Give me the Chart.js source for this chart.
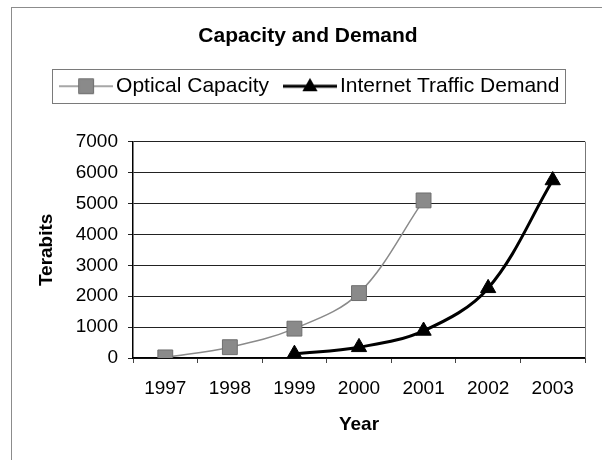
<!DOCTYPE html>
<html><head><meta charset="utf-8">
<script src="https://cdn.jsdelivr.net/npm/chart.js@4"></script>
<style>html,body{margin:0;padding:0;background:#fff}</style>
</head><body>
<canvas id="c" width="602" height="460"></canvas>
<script>
const years = ['1997', '1998', '1999', '2000', '2001', '2002', '2003'];
const opticalCapacity = [20, 350, 950, 2100, 5100, null, null];
const trafficDemand = [null, null, 130, 350, 880, 2260, 5750];
const yTicks = [0, 1000, 2000, 3000, 4000, 5000, 6000, 7000];
const seriesNames = ['Optical Capacity', 'Internet Traffic Demand'];

const FONT = '"Liberation Sans", Arial, sans-serif';
Chart.defaults.font.family = FONT;
Chart.defaults.color = '#000';

const GRAY = '#8a8a8a';
const SQ_R = 10.5, TRI_R = 8.8;
const LEGEND_SHIFT = 5;

function drawSquare(ctx, x, y, r) {
  const s = Math.SQRT1_2 * r;
  ctx.fillStyle = GRAY; ctx.strokeStyle = '#6e6e6e'; ctx.lineWidth = 1;
  ctx.beginPath(); ctx.rect(x - s, y - s, 2 * s, 2 * s); ctx.fill(); ctx.stroke();
}
function drawTri(ctx, x, y, r) {
  ctx.fillStyle = '#000';
  ctx.beginPath();
  ctx.moveTo(x, y - r);
  ctx.lineTo(x + r * Math.sin(2 * Math.PI / 3), y + r * 0.5);
  ctx.lineTo(x - r * Math.sin(2 * Math.PI / 3), y + r * 0.5);
  ctx.closePath(); ctx.fill();
}
function makeIcon(kind) {
  const c = document.createElement('canvas');
  c.width = 54; c.height = 20;
  const g = c.getContext('2d');
  if (kind === 0) {
    g.strokeStyle = GRAY; g.lineWidth = 1.5;
    g.beginPath(); g.moveTo(0, 10); g.lineTo(54, 10); g.stroke();
    drawSquare(g, 27, 10, SQ_R);
  } else {
    g.strokeStyle = '#000'; g.lineWidth = 3;
    g.beginPath(); g.moveTo(0, 10); g.lineTo(54, 10); g.stroke();
    drawTri(g, 27, 10.5, TRI_R);
  }
  return c;
}
const icons = [makeIcon(0), makeIcon(1)];

const spacer = {
  id: 'spacer',
  beforeInit(chart) {
    const box = {
      position: 'top', weight: 500, fullSize: true, options: {},
      isHorizontal() { return true; },
      update(w) { this.width = w; this.height = 35; return this.height; },
      draw() {}
    };
    Chart.layouts.addBox(chart, box);
  }
};

const frames = {
  id: 'frames',
  afterUpdate(chart) {
    const lg = chart.legend;
    lg.left += LEGEND_SHIFT; lg.right += LEGEND_SHIFT;
    (lg.legendHitBoxes || []).forEach(h => { h.left += LEGEND_SHIFT; });
  },
  beforeDraw(chart) {
    const ctx = chart.ctx;
    ctx.save();
    ctx.fillStyle = '#fff'; ctx.fillRect(0, 0, chart.width, chart.height);
    ctx.strokeStyle = '#8c8c8c'; ctx.lineWidth = 1;
    ctx.strokeRect(11.5, 7.5, chart.width + 10, chart.height + 10);
    ctx.restore();
  },
  afterDraw(chart) {
    const ctx = chart.ctx, a = chart.chartArea;
    ctx.save();
    ctx.strokeStyle = '#777'; ctx.lineWidth = 1;
    ctx.beginPath(); ctx.moveTo(Math.round(a.right) + 0.5, a.top); ctx.lineTo(Math.round(a.right) + 0.5, a.bottom); ctx.stroke();
    const hb = chart.legend.legendHitBoxes;
    if (hb && hb.length) {
      const l = hb[0].left - 15, r = hb[hb.length - 1].left + hb[hb.length - 1].width + 5;
      const t = hb[0].top - 6.5, b = hb[0].top + hb[0].height + 6.5;
      ctx.strokeStyle = '#7a7a7a';
      ctx.strokeRect(Math.round(l) + 0.5, Math.round(t) + 0.5, Math.round(r - l), Math.round(b - t));
    }
    ctx.restore();
  }
};

new Chart(document.getElementById('c'), {
  type: 'line',
  data: {
    labels: years,
    datasets: [
      {
        label: seriesNames[0], data: opticalCapacity,
        borderColor: GRAY, borderWidth: 1.5, tension: 0.35,
        pointStyle: 'rect', pointRadius: SQ_R, pointBackgroundColor: GRAY,
        pointBorderColor: '#6e6e6e', pointBorderWidth: 1
      },
      {
        label: seriesNames[1], data: trafficDemand,
        borderColor: '#000', borderWidth: 3, tension: 0.35,
        pointStyle: 'triangle', pointRadius: TRI_R, pointBackgroundColor: '#000',
        pointBorderColor: '#000', pointBorderWidth: 1
      }
    ]
  },
  options: {
    responsive: false, animation: false,
    layout: { padding: { left: 31, right: 17, top: 0, bottom: 24 } },
    plugins: {
      title: {
        display: true, text: 'Capacity and Demand', color: '#000',
        font: { size: 21, weight: 'bold' }, padding: { top: 24, bottom: 5 }
      },
      legend: {
        display: true,
        labels: {
          usePointStyle: true, pointStyleWidth: 39, padding: 21.5,
          font: { size: 21 }, color: '#000',
          generateLabels(chart) {
            const items = Chart.defaults.plugins.legend.labels.generateLabels(chart);
            items.forEach((it, i) => { it.pointStyle = icons[i]; });
            return items;
          }
        }
      },
      tooltip: { enabled: false }
    },
    scales: {
      x: {
        offset: true,
        grid: { offset: true, drawOnChartArea: false, drawTicks: true, tickLength: 5, color: '#444' },
        border: { display: true, color: '#000', width: 1.5 },
        ticks: { font: { size: 19 }, color: '#000', padding: 14, maxRotation: 0 },
        title: { display: true, text: 'Year', font: { size: 19, weight: 'bold' }, color: '#000', padding: { top: 0, bottom: 0 } },
        afterFit(s) { s.height = 78; }
      },
      y: {
        min: 0, max: 7000,
        afterBuildTicks(s) { s.ticks = yTicks.map(v => ({ value: v })); },
        grid: { color: '#222', lineWidth: 1, tickLength: 5 },
        border: { display: true, color: '#000', width: 1.5 },
        ticks: { font: { size: 19 }, color: '#000', padding: 10, callback: v => String(v) },
        title: { display: true, text: 'Terabits', font: { size: 19, weight: 'bold' }, color: '#000', padding: { top: 4, bottom: 0 } },
        afterFit(s) { s.width = 102; }
      }
    }
  },
  plugins: [spacer, frames]
});
</script>
</body></html>
